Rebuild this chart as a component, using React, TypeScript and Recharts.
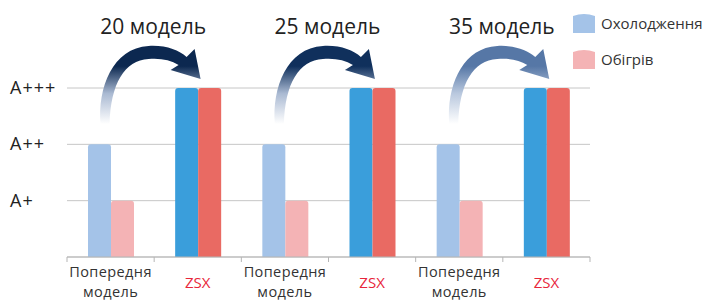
import { BarChart, Bar, XAxis, YAxis, CartesianGrid, Cell } from "recharts";

// chart values
const categories = ["Попередня модель", "ZSX", "Попередня модель", "ZSX", "Попередня модель", "ZSX"];
const cooling = [2, 3, 2, 3, 2, 3];
const heating = [1, 3, 1, 3, 1, 3];
const classLabels = ["", "A+", "A++", "A+++"];
const upgradeLabels = ["20 модель", "25 модель", "35 модель"];
const seriesNames = ["Охолодження", "Обігрів"];

const data = categories.map((name, i) => ({ name, cooling: cooling[i], heating: heating[i] }));

const W = 713;
const H = 302;
const PLOT_LEFT = 67;
const PLOT_RIGHT = 590;
const BAND = (PLOT_RIGHT - PLOT_LEFT) / categories.length;
const FONT = "'Open Sans', 'DejaVu Sans', sans-serif";

const OLD_BLUE = "#a4c3e8";
const OLD_PINK = "#f4b3b5";
const NEW_BLUE = "#3a9edb";
const NEW_RED = "#e96a63";
const arrowColors = ["#0c2850", "#10305c", "#5677a6"];

const YTick = (props: any) => {
  const { y, payload } = props;
  return (
    <text x={10} y={y} dy={6} fontSize={18} letterSpacing={1} fill="#222" fontFamily={FONT}>
      {classLabels[payload.value]}
    </text>
  );
};

const XTick = (props: any) => {
  const { x, y, payload, index } = props;
  const isNew = payload.value === "ZSX";
  const words = String(payload.value).split(" ");
  return (
    <g>
      <line x1={x - BAND / 2} x2={x - BAND / 2} y1={y} y2={y + 5} stroke="#b5b5b5" />
      {index === categories.length - 1 && (
        <line x1={x + BAND / 2} x2={x + BAND / 2} y1={y} y2={y + 5} stroke="#b5b5b5" />
      )}
      {isNew ? (
        <text x={x} y={y + 31} textAnchor="middle" fontSize={15} fill="#e8253a" fontFamily={FONT}>
          ZSX
        </text>
      ) : (
        words.map((w, i) => (
          <text key={i} x={x} y={y + 20 + i * 20} textAnchor="middle" fontSize={14.5} letterSpacing={0.4} fill="#333" fontFamily={FONT}>
            {w}
          </text>
        ))
      )}
    </g>
  );
};

const LegendBox = () => (
  <div style={{ position: "absolute", left: 573, top: 13, fontFamily: FONT, fontSize: 15, color: "#333", whiteSpace: "nowrap" }}>
    {seriesNames.map((n, i) => (
      <div key={n} style={{ display: "flex", alignItems: "center", height: 20, marginBottom: 16 }}>
        <svg width={22} height={20} style={{ marginRight: 6 }}>
          <path d="M0,3 Q11,-1 22,3 L22,20 L0,20 Z" fill={i === 0 ? OLD_BLUE : OLD_PINK} />
        </svg>
        <span>{n}</span>
      </div>
    ))}
  </div>
);

const arrowPath = (cx: number) =>
  `M${cx - 10},124 C${cx - 13},88 ${cx + 2},48 ${cx + 38},46 ` +
  `C${cx + 55},45 ${cx + 68},50 ${cx + 76},57 L${cx + 84},49 L${cx + 90},79 L${cx + 60},70 L${cx + 68},65 ` +
  `C${cx + 60},60 ${cx + 50},58 ${cx + 38},59 C${cx + 14},60 ${cx + 0},84 ${cx - 1},124 Z`;

export default function App() {
  return (
    <div style={{ position: "absolute", left: 0, top: 0, width: W, height: H, background: "#fff" }}>
      <BarChart
        width={W}
        height={H}
        data={data}
        margin={{ top: 88, right: W - PLOT_RIGHT, bottom: 0, left: 0 }}
        barGap={0}
        barSize={23}
      >
        <CartesianGrid vertical={false} stroke="#c6c6c6" />
        <YAxis
          width={PLOT_LEFT}
          domain={[0, 3]}
          ticks={[1, 2, 3]}
          axisLine={false}
          tickLine={false}
          tick={<YTick />}
        />
        <XAxis
          dataKey="name"
          height={45}
          stroke="#b5b5b5"
          tickLine={false}
          tickSize={0}
          tickMargin={0}
          interval={0}
          tick={<XTick />}
        />
        <Bar dataKey="cooling" name={seriesNames[0]} fill={OLD_BLUE} radius={[3, 3, 0, 0]} isAnimationActive={false}>
          {data.map((d, i) => (
            <Cell key={i} fill={d.name === "ZSX" ? NEW_BLUE : OLD_BLUE} />
          ))}
        </Bar>
        <Bar dataKey="heating" name={seriesNames[1]} fill={OLD_PINK} radius={[3, 3, 0, 0]} isAnimationActive={false}>
          {data.map((d, i) => (
            <Cell key={i} fill={d.name === "ZSX" ? NEW_RED : OLD_PINK} />
          ))}
        </Bar>
      </BarChart>
      <LegendBox />
      <svg width={W} height={H} style={{ position: "absolute", left: 0, top: 0, pointerEvents: "none" }}>
        <defs>
          {arrowColors.map((c, i) => (
            <linearGradient key={i} id={`arrowFill${i}`} gradientUnits="userSpaceOnUse" x1={0} y1={124} x2={0} y2={56}>
              <stop offset="0" stopColor="#ffffff" />
              <stop offset="0.45" stopColor={i === 2 ? "#b9c8de" : "#a9b9d2"} />
              <stop offset="0.85" stopColor={c} />
              <stop offset="1" stopColor={c} />
            </linearGradient>
          ))}
        </defs>
        {upgradeLabels.map((label, i) => {
          const cx = PLOT_LEFT + BAND * (2 * i + 0.5);
          const boundary = PLOT_LEFT + BAND * (2 * i + 1);
          return (
            <g key={label}>
              <text x={boundary - 1} y={34} textAnchor="middle" fontSize={21} fill="#222" fontFamily={FONT}>
                {label}
              </text>
              <path d={arrowPath(cx)} fill={`url(#arrowFill${i})`} />
            </g>
          );
        })}
      </svg>
    </div>
  );
}
